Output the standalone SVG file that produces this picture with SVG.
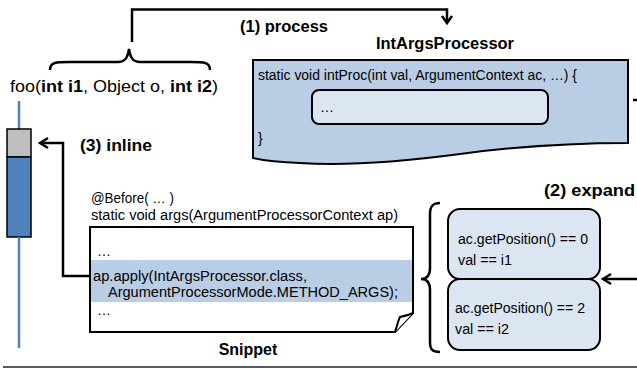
<svg xmlns="http://www.w3.org/2000/svg" width="637" height="369" viewBox="0 0 637 369">
<defs>
<style>
text{font-family:"Liberation Sans",Arial,sans-serif;fill:#000;}
.t{font-size:14px;}
.b{font-weight:bold;font-size:16px;}
.conn{fill:none;stroke:#000;stroke-width:2.5;}
.head{fill:none;stroke:#000;stroke-width:2.5;stroke-linejoin:miter;}
.cond{fill:#dce6f2;stroke:#000;stroke-width:2;}
.brace{fill:none;stroke:#000;stroke-width:2.5;}
</style>
</defs>
<rect width="637" height="369" fill="#fff"/>

<g id="foo">
<text x="10" y="92" font-size="17" textLength="208" lengthAdjust="spacingAndGlyphs">foo(<tspan font-weight="bold">int i1</tspan>, Object o, <tspan font-weight="bold">int i2</tspan>)</text>
<path class="brace" d="M50,70 C50,62 56,62 70,62 L118,62 C126,62 128,56 129,49 C130,56 132,62 140,62 L190,62 C204,62 210,62 210,70"/>
</g>

<g id="stack">
<line x1="19" y1="101" x2="19" y2="129" stroke="#4f81bd" stroke-width="2.5"/>
<rect x="7" y="129" width="24" height="28" fill="#bfbfbf" stroke="#000" stroke-width="1.5"/>
<rect x="7" y="157" width="24" height="80" fill="#4f81bd" stroke="#000" stroke-width="1.5"/>
<line x1="19" y1="237" x2="19" y2="348" stroke="#4f81bd" stroke-width="2.5"/>
</g>

<g id="processor">
<text class="b" x="376" y="49" textLength="138" lengthAdjust="spacingAndGlyphs">IntArgsProcessor</text>
<path d="M253,60 H628 V143 C570,143 520,146 460,154 C400,162 350,166 300,163 C275,162 262,160 253,158 Z" fill="#b9cde5" stroke="#000" stroke-width="2"/>
<text class="t" x="258" y="80" textLength="319" lengthAdjust="spacingAndGlyphs">static void intProc(int val, ArgumentContext ac, …) {</text>
<rect x="312" y="90" width="236" height="34" rx="7" fill="#dce6f2" stroke="#000" stroke-width="2"/>
<text class="t" x="320" y="112">…</text>
<text class="t" x="258" y="143">}</text>
</g>

<g id="snippet">
<text class="t" x="91" y="203" textLength="83" lengthAdjust="spacingAndGlyphs">@Before( … )</text>
<text class="t" x="91" y="220" textLength="307" lengthAdjust="spacingAndGlyphs">static void args(ArgumentProcessorContext ap)</text>
<path d="M90,227 H413 V313 L395,332 H90 Z" fill="#fff" stroke="#000" stroke-width="2"/>
<rect x="91" y="260" width="321" height="42" fill="#b9cde5"/>
<path d="M395,332 C397,326 398,321 400,317 C404,316 409,315 413,313" fill="#fff" stroke="#000" stroke-width="2"/>
<text class="t" x="97" y="256">…</text>
<text class="t" x="93" y="281" textLength="214" lengthAdjust="spacingAndGlyphs">ap.apply(IntArgsProcessor.class,</text>
<text class="t" x="108" y="297" textLength="290" lengthAdjust="spacingAndGlyphs">ArgumentProcessorMode.METHOD_ARGS);</text>
<text class="t" x="97" y="315">…</text>
<text class="b" x="248" y="355" text-anchor="middle">Snippet</text>
</g>

<g id="conditions">
<path class="brace" d="M440,203 C432,203 430,207 430,214 L430,268 C430,276 427,279 421,279 C427,279 430,282 430,290 L430,342 C430,349 432,352 440,352"/>
<rect class="cond" x="448" y="209" width="152" height="70" rx="12"/>
<text class="t" x="458" y="244" textLength="130" lengthAdjust="spacingAndGlyphs">ac.getPosition() == 0</text>
<text class="t" x="458" y="265" textLength="54" lengthAdjust="spacingAndGlyphs">val == i1</text>
<rect class="cond" x="448" y="279" width="152" height="71" rx="12"/>
<text class="t" x="455" y="313" textLength="130" lengthAdjust="spacingAndGlyphs">ac.getPosition() == 2</text>
<text class="t" x="455" y="334" textLength="54" lengthAdjust="spacingAndGlyphs">val == i2</text>
</g>

<g id="connectors">
<path class="conn" d="M132,42 V9.5 H447 V22"/>
<path class="head" d="M442,16 L447,23 L452,16"/>
<text class="b" x="240" y="32" textLength="88" lengthAdjust="spacingAndGlyphs">(1) process</text>
<path class="conn" d="M633,100 H637"/>
<text class="b" x="544" y="196" textLength="91" lengthAdjust="spacingAndGlyphs">(2) expand</text>
<path class="conn" d="M637,279 H604"/>
<path class="head" d="M611,274 L603,279 L611,284"/>
<path class="conn" d="M90,276 H63 V143 H41"/>
<path class="head" d="M48,138 L40,143 L48,148"/>
<text class="b" x="80" y="151" textLength="72" lengthAdjust="spacingAndGlyphs">(3) inline</text>
</g>

<line x1="3" y1="367" x2="637" y2="367" stroke="#222" stroke-width="1.5"/>
</svg>
